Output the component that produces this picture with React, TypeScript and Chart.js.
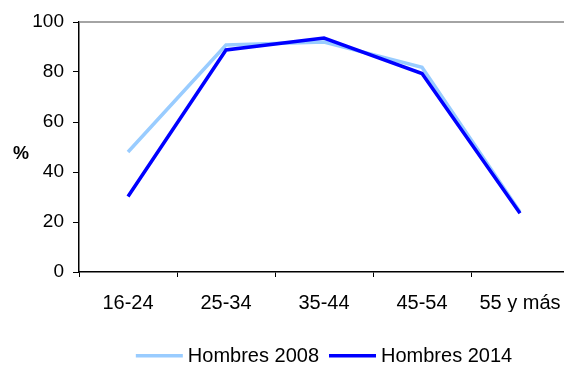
import React, { useEffect, useRef } from "react";
import { Chart, registerables } from "chart.js";

Chart.register(...registerables);

// Tasa de actividad de hombres por grupo de edad (%)
const ageGroups: string[] = ["16-24", "25-34", "35-44", "45-54", "55 y más"];
const hombres2008: number[] = [48, 90.8, 92, 81.9, 24];
const hombres2014: number[] = [30.2, 88.8, 93.6, 79.4, 23.5];
const yTicks: number[] = [0, 20, 40, 60, 80, 100];

const seriesLabels = ["Hombres 2008", "Hombres 2014"];
const seriesColors = ["#99CCFF", "#0000FF"];

const FONT = "Arial, 'Liberation Sans', sans-serif";

// Gray top frame line, "%" axis caption and a line-sample legend under the plot
const decorations = {
  id: "decorations",
  afterDraw(chart: Chart) {
    const { ctx, chartArea } = chart;
    ctx.save();
    ctx.strokeStyle = "#868686";
    ctx.lineWidth = 1.5;
    ctx.beginPath();
    ctx.moveTo(chartArea.left, chartArea.top);
    ctx.lineTo(chartArea.right, chartArea.top);
    ctx.stroke();

    ctx.fillStyle = "#000";
    ctx.font = `bold 18px ${FONT}`;
    ctx.textAlign = "center";
    ctx.textBaseline = "middle";
    ctx.fillText("%", 21, 154);

    ctx.font = `20px ${FONT}`;
    const lineLen = 47;
    const gap = 5;
    const spacing = 10;
    const items = chart.data.datasets.map((ds) => ({
      label: String(ds.label),
      color: String(ds.borderColor),
      w: lineLen + gap + ctx.measureText(String(ds.label)).width,
    }));
    const total =
      items.reduce((s, it) => s + it.w, 0) + spacing * (items.length - 1);
    let x = (chartArea.left + chartArea.right) / 2 - total / 2;
    const y = 356;
    ctx.textAlign = "left";
    items.forEach((it) => {
      ctx.fillStyle = it.color;
      ctx.fillRect(x, y - 2, lineLen, 3.5);
      ctx.fillStyle = "#000";
      ctx.fillText(it.label, x + lineLen + gap, y);
      x += it.w + spacing;
    });
    ctx.restore();
  },
};

export default function App() {
  const canvasRef = useRef<HTMLCanvasElement | null>(null);

  useEffect(() => {
    const canvas = canvasRef.current;
    if (!canvas) return;
    const chart = new Chart(canvas, {
      type: "line",
      data: {
        labels: ageGroups,
        datasets: [
          {
            label: seriesLabels[0],
            data: hombres2008,
            borderColor: seriesColors[0],
            backgroundColor: seriesColors[0],
            borderWidth: 3.5,
            pointRadius: 0,
            tension: 0,
            order: 2,
          },
          {
            label: seriesLabels[1],
            data: hombres2014,
            borderColor: seriesColors[1],
            backgroundColor: seriesColors[1],
            borderWidth: 3.5,
            pointRadius: 0,
            tension: 0,
            order: 1,
          },
        ],
      },
      options: {
        responsive: false,
        animation: false,
        devicePixelRatio: 1,
        layout: { padding: { top: 22, left: 0, right: 1, bottom: 53 } },
        plugins: {
          legend: { display: false },
          tooltip: { enabled: false },
        },
        scales: {
          x: {
            offset: true,
            grid: {
              offset: true,
              drawOnChartArea: false,
              drawTicks: true,
              tickLength: 5,
              color: "#000",
            },
            border: { color: "#000", width: 1.5 },
            ticks: {
              color: "#000",
              font: { family: FONT, size: 20 },
              padding: 14,
              maxRotation: 0,
              autoSkip: false,
            },
            afterFit: (scale: any) => {
              scale.height = 40;
              scale.paddingLeft = 0;
              scale.paddingRight = 0;
            },
          },
          y: {
            min: 0,
            max: 100,
            afterBuildTicks: (scale: any) => {
              scale.ticks = yTicks.map((v) => ({ value: v }));
            },
            grid: {
              drawOnChartArea: false,
              drawTicks: true,
              tickLength: 6,
              color: "#000",
            },
            border: { color: "#000", width: 1.5 },
            ticks: {
              color: "#000",
              font: { family: FONT, size: 19 },
              padding: 9,
            },
            afterFit: (scale: any) => {
              scale.width = 79;
              scale.paddingTop = 0;
              scale.paddingBottom = 0;
            },
          },
        },
      },
      plugins: [decorations],
    });
    return () => chart.destroy();
  }, []);

  return (
    <div
      style={{
        position: "fixed",
        left: 0,
        top: 0,
        width: 564,
        height: 365,
        overflow: "hidden",
        background: "#fff",
      }}
    >
      <canvas
        ref={canvasRef}
        width={570}
        height={365}
        style={{ display: "block", width: 570, height: 365 }}
      />
    </div>
  );
}
